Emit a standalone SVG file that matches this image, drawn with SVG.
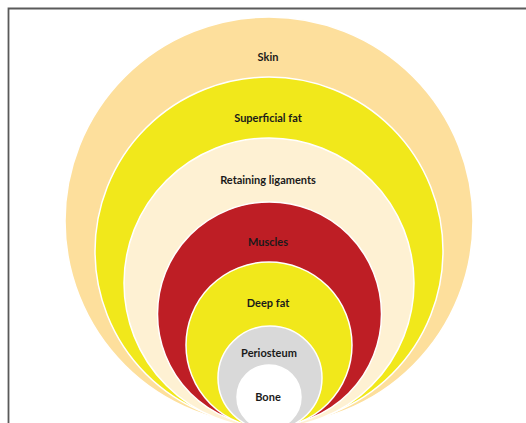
<svg xmlns="http://www.w3.org/2000/svg" width="526" height="423" viewBox="0 0 526 423">
<style>
.ring{stroke:#ffffff;stroke-width:1.5}
.lbl{font-family:"Lato","Liberation Sans",sans-serif;font-weight:bold;font-size:11px;fill:#1a1a1a;text-anchor:middle}
</style>
<rect width="526" height="423" fill="#ffffff"/>
<g id="frame"><path d="M8.5,423 V8.5 H526" fill="none" stroke="#5a5a5a" stroke-width="1.8"/></g>
<g id="skin"><circle class="ring" cx="269" cy="221" r="204" fill="#FDDF9C"/><text class="lbl" x="268" y="61">Skin</text></g>
<g id="superficial-fat"><circle class="ring" cx="269" cy="251" r="174" fill="#F1E81B"/><text class="lbl" x="268" y="122">Superficial fat</text></g>
<g id="retaining-ligaments"><circle class="ring" cx="269" cy="283" r="145" fill="#FEF1D3"/><text class="lbl" x="268" y="184">Retaining ligaments</text></g>
<g id="muscles"><circle class="ring" cx="269.5" cy="314" r="112" fill="#BE1E25"/><text class="lbl" x="268" y="246">Muscles</text></g>
<g id="deep-fat"><circle class="ring" cx="269" cy="345" r="83" fill="#F1E81B"/><text class="lbl" x="268" y="307">Deep fat</text></g>
<g id="periosteum"><circle class="ring" cx="270" cy="378" r="52" fill="#D9D9D9"/><text class="lbl" x="269" y="357">Periosteum</text></g>
<g id="bone"><circle class="ring" cx="269" cy="397" r="32" fill="#ffffff"/><text class="lbl" x="268" y="401">Bone</text></g>
<g id="connectors"></g>
</svg>
